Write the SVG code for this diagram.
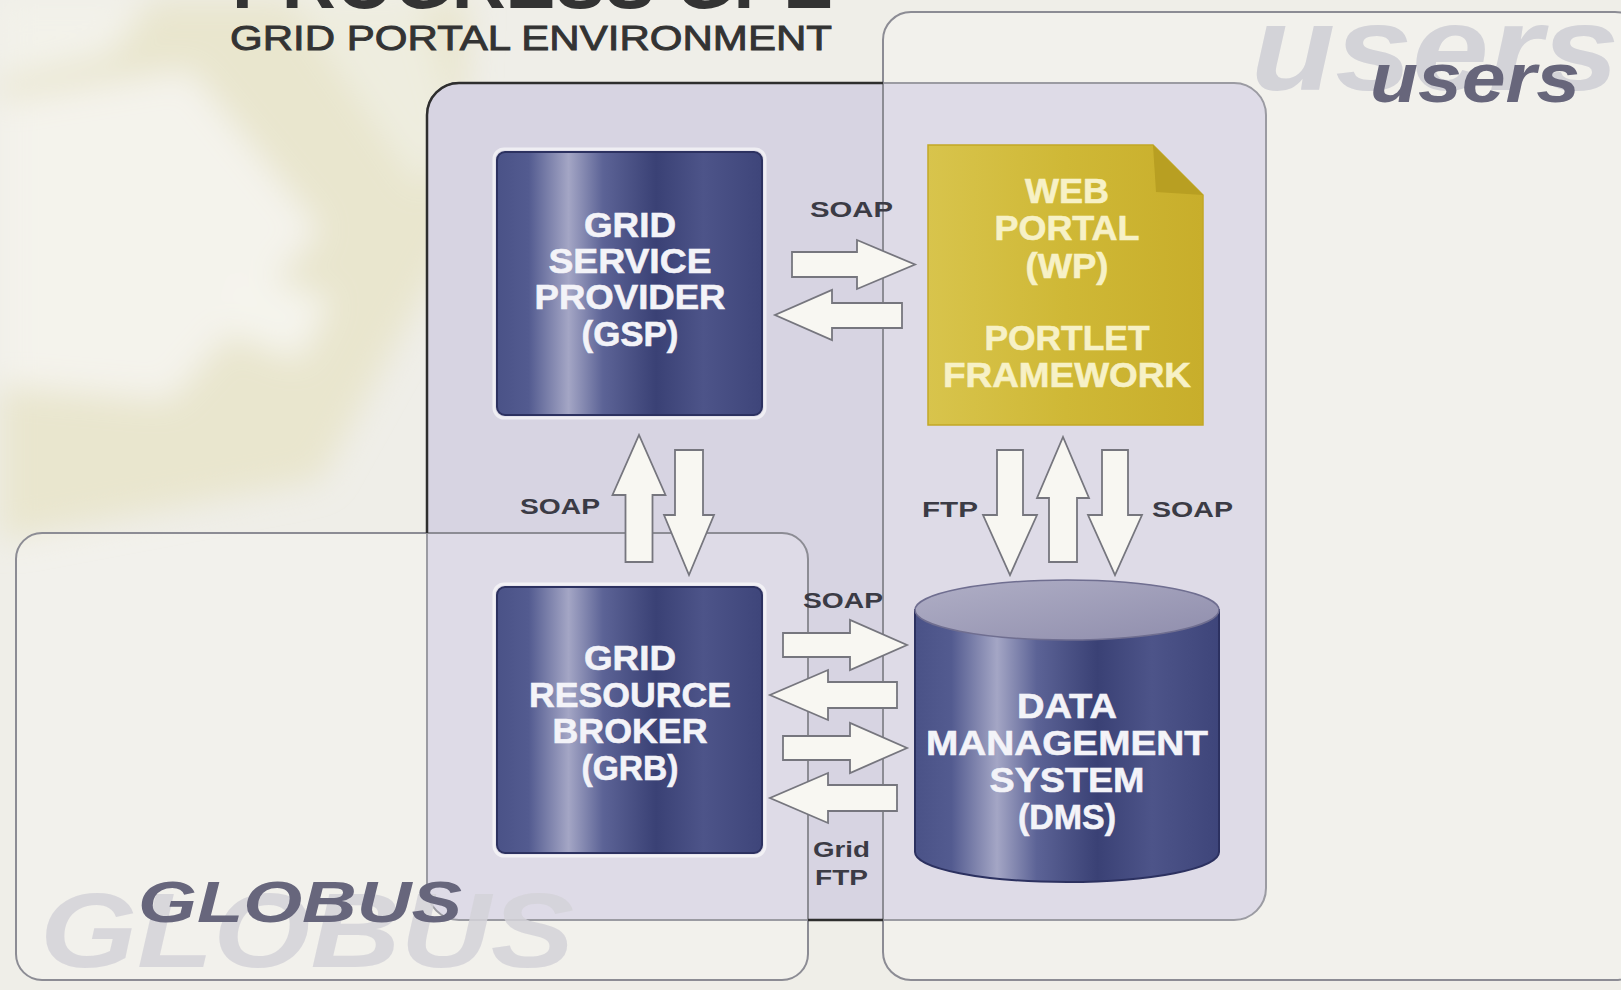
<svg xmlns="http://www.w3.org/2000/svg" width="1621" height="990" viewBox="0 0 1621 990">
<defs>
  <linearGradient id="blue" x1="0" y1="0" x2="1" y2="0">
    <stop offset="0" stop-color="#4a5287"/>
    <stop offset="0.12" stop-color="#535b90"/>
    <stop offset="0.27" stop-color="#a4a6c5"/>
    <stop offset="0.4" stop-color="#5c6396"/>
    <stop offset="0.6" stop-color="#3a4175"/>
    <stop offset="0.78" stop-color="#4d5489"/>
    <stop offset="1" stop-color="#3e457a"/>
  </linearGradient>
  <linearGradient id="cylTop" x1="0" y1="0" x2="1" y2="1">
    <stop offset="0" stop-color="#b0afc6"/>
    <stop offset="1" stop-color="#8f8dac"/>
  </linearGradient>
  <linearGradient id="gold" x1="0" y1="0" x2="1" y2="0">
    <stop offset="0" stop-color="#d8c44c"/>
    <stop offset="0.5" stop-color="#cfb836"/>
    <stop offset="1" stop-color="#c8ae2b"/>
  </linearGradient>
  <filter id="blur" x="-20%" y="-20%" width="140%" height="140%">
    <feGaussianBlur stdDeviation="16"/>
  </filter>
  <mask id="outside">
    <rect x="0" y="0" width="1621" height="990" fill="#fff"/>
    <rect x="883" y="12" width="760" height="968" rx="28" fill="#000"/>
    <rect x="16" y="533" width="792" height="447" rx="26" fill="#000"/>
  </mask>
  <style>
    .arrow { fill:#f8f7f2; stroke:#76767e; stroke-width:1.8; stroke-linejoin:miter; }
    .lbl { font-family:"Liberation Sans", Arial, sans-serif; font-weight:bold; font-size:22px; fill:#3b3b45; }
    .ntxt { font-family:"Liberation Sans", Arial, sans-serif; font-weight:bold; font-size:35px; fill:#f3f3f8; text-anchor:middle; stroke:#f3f3f8; stroke-width:0.6; }
    .wtxt { font-family:"Liberation Sans", Arial, sans-serif; font-weight:bold; font-size:35px; fill:#f7f1c6; text-anchor:middle; stroke:#f7f1c6; stroke-width:0.6; }
    .zone { fill:#ffffff; fill-opacity:0.18; stroke:#8c8c94; stroke-width:2; }
    .big { font-family:"Liberation Sans", Arial, sans-serif; font-weight:bold; font-style:italic; }
    .node { fill:url(#blue); stroke:#2c3160; stroke-width:2; }
    .halo { fill:none; stroke:#ffffff; stroke-opacity:0.6; stroke-width:3; }
  </style>
</defs>

<!-- background -->
<rect x="0" y="0" width="1621" height="990" fill="#efeee8"/>
<g filter="url(#blur)">
  <polygon points="0,0 470,0 460,230 320,480 0,540" fill="#e7e3c6" opacity="0.75"/>
  <polygon points="0,100 190,70 320,230 170,400 0,385" fill="#f4f3ec"/>
  <polygon points="240,270 330,300 300,360 220,330" fill="#f5f4ed"/>
  <polygon points="0,0 150,0 110,55 0,80" fill="#f3f2ea"/>
  <polygon points="290,0 420,0 460,140 420,190" fill="#f2f1e9" opacity="0.6"/>
</g>

<!-- titles -->
<text x="232" y="8" class="big" style="font-style:normal" font-size="76" fill="#333" textLength="601" lengthAdjust="spacingAndGlyphs">PROGRESS GPE</text>
<text x="230" y="50" font-family="'Liberation Sans', Arial, sans-serif" font-size="35" fill="#333" stroke="#333" stroke-width="0.9" textLength="602" lengthAdjust="spacingAndGlyphs">GRID PORTAL ENVIRONMENT</text>

<!-- central box -->
<g id="gpe-box">
  <rect x="427" y="83" width="839" height="837" rx="32" fill="#d7d4e2" stroke="#85858e" stroke-width="2"/>
</g>

<!-- zones -->
<g id="users-zone">
  <rect class="zone" x="883" y="12" width="760" height="968" rx="28"/>
  <text x="1251" y="90" class="big" font-size="120" fill="#d3d3d8" textLength="368" lengthAdjust="spacingAndGlyphs">users</text>
  <text x="1370" y="102" class="big" font-size="70" fill="#67667b" textLength="210" lengthAdjust="spacingAndGlyphs">users</text>
</g>
<g id="globus-zone">
  <rect class="zone" x="16" y="533" width="792" height="447" rx="26"/>
  <text x="40" y="967" class="big" font-size="105" fill="#d3d2d8" fill-opacity="0.85" textLength="534" lengthAdjust="spacingAndGlyphs">GLOBUS</text>
  <text x="138" y="922" class="big" font-size="58" fill="#67667c" textLength="324" lengthAdjust="spacingAndGlyphs">GLOBUS</text>
</g>

<!-- dark outline of central box outside the zones -->
<rect x="427" y="83" width="839" height="837" rx="32" fill="none" stroke="#2e2e2e" stroke-width="2.5" mask="url(#outside)"/>

<!-- nodes -->
<g id="gsp">
  <rect class="halo" x="494" y="149" width="271" height="269" rx="10"/>
  <rect class="node" x="497" y="152" width="265" height="263" rx="8"/>
  <text class="ntxt" x="630" y="237" textLength="92" lengthAdjust="spacingAndGlyphs">GRID</text>
  <text class="ntxt" x="630" y="273" textLength="163" lengthAdjust="spacingAndGlyphs">SERVICE</text>
  <text class="ntxt" x="630" y="309" textLength="191" lengthAdjust="spacingAndGlyphs">PROVIDER</text>
  <text class="ntxt" x="630" y="346" textLength="97" lengthAdjust="spacingAndGlyphs">(GSP)</text>
</g>

<g id="grb">
  <rect class="halo" x="494" y="584" width="271" height="272" rx="10"/>
  <rect class="node" x="497" y="587" width="265" height="266" rx="8"/>
  <text class="ntxt" x="630" y="670" textLength="92" lengthAdjust="spacingAndGlyphs">GRID</text>
  <text class="ntxt" x="630" y="707" textLength="202" lengthAdjust="spacingAndGlyphs">RESOURCE</text>
  <text class="ntxt" x="630" y="743" textLength="155" lengthAdjust="spacingAndGlyphs">BROKER</text>
  <text class="ntxt" x="630" y="780" textLength="97" lengthAdjust="spacingAndGlyphs">(GRB)</text>
</g>

<g id="wp">
  <path d="M928,145 H1153 L1203,195 V425 H928 Z" fill="url(#gold)" stroke="#c2a826" stroke-width="1.5"/>
  <path d="M1153,145 L1203,195 L1156,192 Z" fill="#b89f22"/>
  <text class="wtxt" x="1067" y="203" textLength="84" lengthAdjust="spacingAndGlyphs">WEB</text>
  <text class="wtxt" x="1067" y="240" textLength="145" lengthAdjust="spacingAndGlyphs">PORTAL</text>
  <text class="wtxt" x="1067" y="278" textLength="83" lengthAdjust="spacingAndGlyphs">(WP)</text>
  <text class="wtxt" x="1067" y="350" textLength="165" lengthAdjust="spacingAndGlyphs">PORTLET</text>
  <text class="wtxt" x="1067" y="387" textLength="248" lengthAdjust="spacingAndGlyphs">FRAMEWORK</text>
</g>

<g id="dms">
  <path d="M915,610 V852 A152,30 0 0 0 1219,852 V610 Z" fill="url(#blue)" stroke="#2c3160" stroke-width="2"/>
  <ellipse cx="1067" cy="610" rx="152" ry="30" fill="url(#cylTop)" stroke="#6f6e90" stroke-width="1.5"/>
  <text class="ntxt" x="1067" y="718" textLength="100" lengthAdjust="spacingAndGlyphs">DATA</text>
  <text class="ntxt" x="1067" y="755" textLength="282" lengthAdjust="spacingAndGlyphs">MANAGEMENT</text>
  <text class="ntxt" x="1067" y="792" textLength="155" lengthAdjust="spacingAndGlyphs">SYSTEM</text>
  <text class="ntxt" x="1067" y="829" textLength="98" lengthAdjust="spacingAndGlyphs">(DMS)</text>
</g>

<!-- connectors -->
<g id="connectors">
  <!-- GSP <-> WP -->
  <polygon class="arrow" points="792,252 857,252 857,240 915,264.5 857,289 857,277 792,277"/>
  <polygon class="arrow" points="902,303 832,303 832,290 775,315 832,340 832,328 902,328"/>
  <!-- GSP <-> GRB -->
  <polygon class="arrow" points="625.5,562 625.5,495 612.5,495 639,435 665.5,495 652.5,495 652.5,562"/>
  <polygon class="arrow" points="675,450 703,450 703,515 714,515 689,575 664,515 675,515"/>
  <!-- WP <-> DMS -->
  <polygon class="arrow" points="997,450 1023,450 1023,515 1037,515 1010,575 983,515 997,515"/>
  <polygon class="arrow" points="1049,562 1049,498 1037,498 1063,437 1089,498 1077,498 1077,562"/>
  <polygon class="arrow" points="1102,450 1128,450 1128,515 1142,515 1115,575 1088,515 1102,515"/>
  <!-- GRB <-> DMS -->
  <polygon class="arrow" points="783,633 850,633 850,620 907,645 850,670 850,657 783,657"/>
  <polygon class="arrow" points="897,682 828,682 828,670 770,695 828,720 828,708 897,708"/>
  <polygon class="arrow" points="783,736 850,736 850,723 907,748 850,773 850,760 783,760"/>
  <polygon class="arrow" points="897,785 828,785 828,773 770,798 828,823 828,811 897,811"/>

  <text class="lbl" x="810" y="217" textLength="83" lengthAdjust="spacingAndGlyphs">SOAP</text>
  <text class="lbl" x="520" y="514" textLength="80" lengthAdjust="spacingAndGlyphs">SOAP</text>
  <text class="lbl" x="922" y="517" textLength="56" lengthAdjust="spacingAndGlyphs">FTP</text>
  <text class="lbl" x="1152" y="517" textLength="81" lengthAdjust="spacingAndGlyphs">SOAP</text>
  <text class="lbl" x="803" y="608" textLength="80" lengthAdjust="spacingAndGlyphs">SOAP</text>
  <text class="lbl" x="813" y="857" textLength="57" lengthAdjust="spacingAndGlyphs">Grid</text>
  <text class="lbl" x="815" y="885" textLength="53" lengthAdjust="spacingAndGlyphs">FTP</text>
</g>
</svg>
